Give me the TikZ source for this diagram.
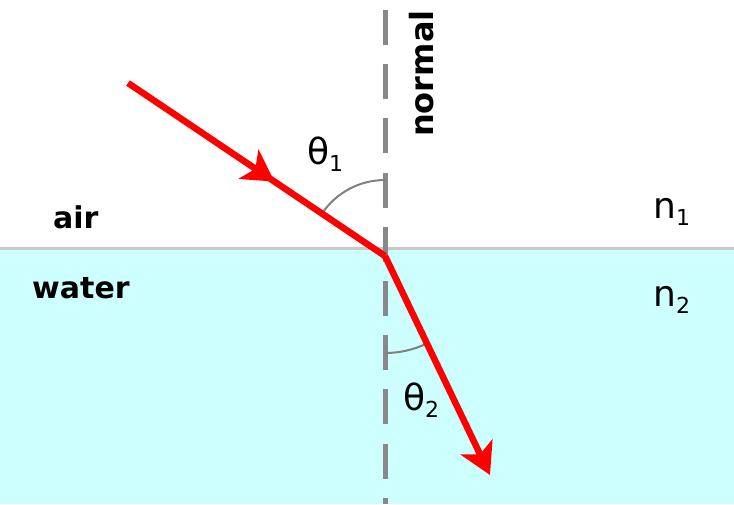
\documentclass[tikz,border=0pt]{standalone}
\usepackage{fontspec}
\setmainfont{DejaVu Sans}
\usetikzlibrary{arrows.meta,decorations.markings}
\definecolor{waterc}{RGB}{206,255,255}
\definecolor{surfc}{RGB}{200,200,200}
\definecolor{normc}{RGB}{136,136,136}
\definecolor{arcc}{RGB}{128,128,128}
\definecolor{rayc}{RGB}{255,0,0}
\tikzset{
  ray/.style={draw=rayc, line width=6.5pt},
  anglearc/.style={draw=arcc, line width=2pt},
  medlabel/.style={inner sep=0pt, anchor=base west, font=\fontsize{30}{30}\selectfont\bfseries},
  symlabel/.style={inner sep=0pt, anchor=base west, font=\fontsize{36}{36}\selectfont},
}
\newcommand{\subsc}[1]{\raisebox{-7pt}{\fontsize{22}{22}\selectfont #1}}
\begin{document}
\begin{tikzpicture}[x=1pt,y=1pt]
\useasboundingbox (0,-504) rectangle (734,0);
% water
\fill[waterc] (0,-250) rectangle (734,-504);
% interface
\coordinate (sl) at (0,-248.5);
\coordinate (sr) at (734,-248.5);
\draw[surfc, line width=3pt] (sl) -- (sr);
% normal
\coordinate (ntop) at (385,-10);
\coordinate (nbot) at (385,-504);
\draw[normc, line width=5pt, dash pattern=on 35pt off 19.2pt] (ntop) -- (nbot);
% points
\coordinate (A) at (128,-83);
\coordinate (O) at (385,-256);
\coordinate (B) at (490,-475);
% angle arcs
\draw[anglearc] ([shift={(90:76)}]O) arc[start angle=90, end angle=146.2, radius=76];
\draw[anglearc] ([shift={(-90:97)}]O) arc[start angle=-90, end angle=-64.5, radius=97];
% rays
\draw[ray, postaction={decorate}, decoration={markings,
  mark=at position 0.57 with {\arrow[rayc]{Stealth[length=31pt,width=35pt,inset=8pt]}}}] (A) -- (O);
\draw[ray, -{Stealth[length=31pt,width=35pt,inset=8pt]}] (O) -- (B);
% labels
\node[medlabel] (air) at (53,-228) {air};
\node[medlabel] (water) at (32,-298) {water};
\node[inner sep=0pt, anchor=base west, rotate=90, font=\fontsize{32}{32}\selectfont\bfseries] (normal) at (433,-137) {normal};
\node[symlabel] (t1) at (307,-164) {θ\subsc{1}};
\node[symlabel] (t2) at (403,-410) {θ\subsc{2}};
\node[symlabel] (n1) at (653,-218) {n\subsc{1}};
\node[symlabel] (n2) at (653,-306) {n\subsc{2}};
\end{tikzpicture}
\end{document}
